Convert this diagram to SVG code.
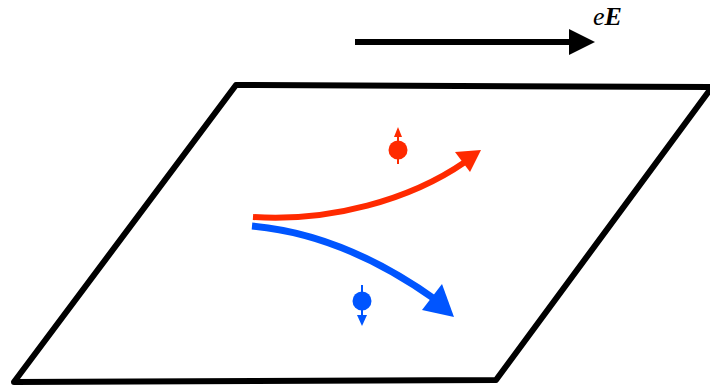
<svg xmlns="http://www.w3.org/2000/svg" width="710" height="386" viewBox="0 0 710 386">
<style>
.plane{fill:none;stroke:#000;stroke-width:6;stroke-linejoin:round}
.red{stroke:#FF2A00;fill:none}
.blue{stroke:#0055FF;fill:none}
.lbl{font-family:"Liberation Serif","Times New Roman",serif;font-size:26px;font-style:italic}
</style>
<rect width="710" height="386" fill="#fff"/>
<g id="plane">
<polygon class="plane" points="236,85 712,87 496,380 14,382"/>
</g>
<g id="field">
<line x1="355" y1="42" x2="572" y2="42" stroke="#000" stroke-width="6"/>
<polygon points="569,29 595,42 569,55" fill="#000"/>
<text class="lbl" x="593" y="25">e<tspan font-weight="bold">E</tspan></text>
</g>
<g id="connectors">
<path class="red" stroke-width="6" d="M253,217 C330,222 410,200 465,162"/>
<polygon points="455,152 481,150 470,172" fill="#FF2A00"/>
<path class="blue" stroke-width="7" d="M252,226 C320,232 380,260 436,300"/>
<polygon points="422,310 442,284 454,317" fill="#0055FF"/>
</g>
<g id="spin-up">
<line class="red" stroke-width="2" x1="398" y1="134" x2="398" y2="164"/>
<polygon points="394,137 398,127 402,137" fill="#FF2A00"/>
<circle cx="398" cy="150" r="9.5" fill="#FF2A00"/>
</g>
<g id="spin-down">
<line class="blue" stroke-width="2" x1="362" y1="285" x2="362" y2="318"/>
<polygon points="357,315 367,315 362,326" fill="#0055FF"/>
<circle cx="362" cy="301" r="9.5" fill="#0055FF"/>
</g>
</svg>
